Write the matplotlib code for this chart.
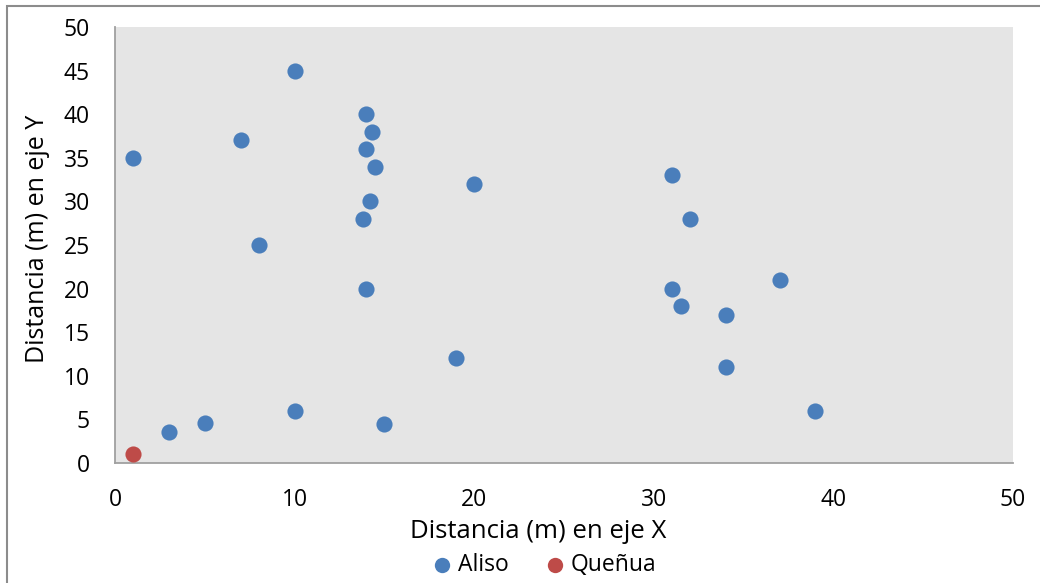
import matplotlib
matplotlib.use("Agg")
import matplotlib.pyplot as plt
from matplotlib.patches import Rectangle

aliso_x = [1, 10, 14, 14.3, 14, 14.5, 7, 20, 14.2, 13.8, 8, 14, 31, 32, 37, 31, 31.5, 34, 19, 34, 39, 10, 15, 5, 3]
aliso_y = [35, 45, 40, 38, 36, 34, 37, 32, 30, 28, 25, 20, 33, 28, 21, 20, 18, 17, 12, 11, 6, 6, 4.5, 4.6, 3.5]
quenua_x = [1]
quenua_y = [1]
ticks = [0, 10, 20, 30, 40, 50]
yticks = [0, 5, 10, 15, 20, 25, 30, 35, 40, 45, 50]

plt.rcParams['font.family'] = ['Open Sans', 'DejaVu Sans']

W, H = 1040, 583
fig = plt.figure(figsize=(W/100, H/100), dpi=100)
fig.patches.append(Rectangle((7/W, -0.1), 1.2, (H-6)/H + 0.1, transform=fig.transFigure,
                             fill=False, edgecolor='#8c8c8c', linewidth=1.5))
ax = fig.add_axes([115/W, 1-463/H, (1013-115)/W, (463-27)/H])
ax.set_facecolor('#e5e5e5')
ax.scatter(aliso_x, aliso_y, s=135, color='#4a7ebb', label='Aliso', zorder=3, linewidths=0)
ax.scatter(quenua_x, quenua_y, s=135, color='#be4b48', label='Queñua', zorder=3, linewidths=0)
ax.set_xlim(0, 50)
ax.set_ylim(0, 50)
ax.set_xticks(ticks)
ax.set_yticks(yticks)
for s in ['top', 'right']:
    ax.spines[s].set_visible(False)
for s in ['left', 'bottom']:
    ax.spines[s].set_color('#a0a0a0')
    ax.spines[s].set_linewidth(1.3)
ax.tick_params(length=0, labelsize=16.5, colors='black')
ax.tick_params(axis='x', pad=18)
ax.tick_params(axis='y', pad=18)
ax.set_xlabel('Distancia (m) en eje X', fontsize=18.5, va='center')
ax.xaxis.set_label_coords((538-115)/898, (463-531)/436)
ax.set_ylabel('Distancia (m) en eje Y', fontsize=18, va='center')
ax.yaxis.set_label_coords((38-115)/898, 1-(239-27)/436)
handles, labels = ax.get_legend_handles_labels()
fig.legend(handles, labels, loc='center', bbox_to_anchor=(545/W, 1-565/H), ncol=2, frameon=False,
           fontsize=16.5, handlelength=0.8, handletextpad=0.3, columnspacing=1.6, markerscale=0.95,
           borderaxespad=0, borderpad=0)
fig.savefig('out.png', dpi=100)
